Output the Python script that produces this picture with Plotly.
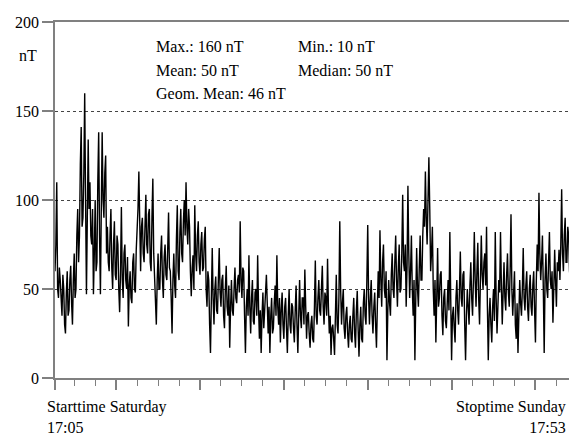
import numpy as np
import plotly.graph_objects as go

# sample spacing of the record (minutes) and field values (nT)
sample_step_min = 2.5
field_nT = [
    60, 75, 110, 50, 45, 62, 55, 40, 35, 58, 50, 30, 25, 48, 60, 35, 38, 55, 63, 42,
    30, 55, 70, 45, 50, 80, 95, 65, 80, 120, 141, 85, 90, 115, 160, 100, 47, 90, 134, 95,
    110, 80, 75, 95, 47, 70, 100, 60, 65, 110, 138, 80, 47, 95, 138, 100, 90, 115, 125, 70,
    85, 65, 60, 80, 95, 62, 50, 75, 88, 58, 55, 80, 75, 50, 37, 60, 96, 55, 45, 70,
    75, 55, 50, 68, 29, 52, 60, 45, 42, 65, 70, 50, 48, 72, 80, 95, 116, 75, 60, 85,
    90, 70, 65, 85, 103, 75, 70, 92, 95, 65, 60, 90, 112, 70, 55, 45, 30, 55, 70, 50,
    50, 70, 80, 55, 45, 68, 75, 58, 55, 72, 93, 62, 60, 45, 25, 55, 70, 52, 45, 78,
    97, 60, 55, 82, 95, 70, 65, 88, 100, 80, 110, 85, 75, 95, 85, 60, 46, 62, 69, 50,
    97, 70, 60, 80, 88, 65, 58, 75, 82, 60, 62, 78, 85, 50, 40, 60, 55, 30, 14, 45,
    73, 45, 30, 50, 57, 38, 36, 55, 73, 48, 40, 55, 58, 35, 28, 50, 63, 40, 35, 52,
    17, 40, 55, 38, 35, 50, 62, 45, 42, 55, 58, 48, 88, 55, 45, 62, 60, 35, 14, 40,
    50, 35, 69, 40, 25, 45, 55, 32, 30, 48, 50, 35, 69, 40, 22, 38, 14, 35, 48, 28,
    35, 48, 58, 30, 25, 40, 14, 35, 45, 25, 28, 42, 52, 35, 69, 40, 30, 45, 20, 38,
    48, 30, 22, 40, 45, 28, 14, 35, 50, 30, 25, 42, 40, 28, 20, 38, 52, 30, 14, 35,
    55, 35, 28, 45, 45, 30, 61, 40, 22, 35, 37, 25, 17, 30, 35, 22, 20, 40, 66, 35,
    30, 45, 55, 38, 35, 50, 63, 40, 30, 48, 45, 35, 67, 40, 25, 35, 13, 28, 30, 22,
    13, 35, 58, 30, 25, 45, 88, 50, 30, 42, 50, 28, 22, 35, 40, 25, 17, 30, 35, 22,
    20, 35, 45, 25, 17, 38, 49, 28, 12, 30, 40, 22, 20, 42, 50, 35, 30, 55, 86, 45,
    30, 45, 55, 35, 25, 40, 48, 30, 17, 40, 60, 45, 83, 55, 40, 65, 75, 50, 45, 60,
    10, 38, 55, 42, 35, 58, 70, 50, 45, 65, 80, 55, 40, 62, 75, 48, 50, 70, 103, 65,
    60, 75, 40, 62, 108, 70, 45, 60, 80, 50, 35, 55, 10, 45, 73, 50, 40, 62, 80, 55,
    55, 80, 95, 85, 116, 90, 75, 100, 124, 95, 60, 70, 85, 50, 35, 55, 20, 45, 73, 40,
    45, 58, 60, 35, 24, 45, 50, 32, 28, 42, 55, 38, 82, 45, 10, 35, 40, 28, 20, 45,
    55, 38, 30, 50, 71, 45, 40, 58, 60, 30, 10, 35, 50, 40, 30, 52, 65, 45, 35, 55,
    82, 55, 40, 60, 76, 45, 30, 55, 80, 58, 50, 65, 70, 52, 85, 40, 10, 35, 45, 30,
    20, 40, 50, 32, 82, 45, 25, 40, 55, 48, 82, 52, 30, 48, 65, 45, 38, 58, 70, 48,
    40, 60, 92, 50, 35, 48, 60, 30, 22, 42, 14, 35, 55, 42, 35, 50, 73, 45, 38, 52,
    60, 40, 32, 50, 58, 40, 35, 52, 60, 38, 20, 55, 75, 60, 104, 70, 55, 65, 80, 50,
    14, 55, 70, 50, 45, 65, 82, 55, 50, 60, 31, 50, 72, 55, 40, 65, 60, 72, 55, 75,
    106, 70, 60, 80, 90, 65, 65, 85, 80, 60, 55, 75, 85, 65, 60, 70,
]
time_min = np.arange(len(field_nT)) * sample_step_min

# axis ticks
y_ticks = [0, 50, 100, 150, 200]
x_major_ticks = [0, 175, 415, 655, 895, 1135, 1375]   # start, then every 4 h from 20:00
x_minor_tick0 = 55                                    # 18:00
x_minor_step = 60                                     # hourly
x_view_end = 1471

stats_left = ["Max.: 160 nT", "Mean: 50 nT", "Geom. Mean: 46 nT"]
stats_right = ["Min.: 10 nT", "Median: 50 nT"]
unit_label = "nT"
start_label = "Starttime Saturday<br>17:05"
stop_label = "Stoptime Sunday<br>17:53"

FONT = "Liberation Serif"
AX = "#808080"
TXT = dict(family=FONT, size=16, color="black")

fig = go.Figure()
fig.add_trace(go.Scatter(x=time_min, y=field_nT, mode="lines",
                         line=dict(color="black", width=1.4), showlegend=False))

fig.update_layout(
    width=569, height=435,
    margin=dict(l=55, r=0, t=22, b=57),
    paper_bgcolor="white", plot_bgcolor="white",
    font=TXT,
    showlegend=False,
)
fig.update_xaxes(
    range=[0, x_view_end], showgrid=False, zeroline=False,
    showline=True, linecolor=AX, linewidth=1.5, mirror=True,
    tickmode="array", tickvals=x_major_ticks, ticks="outside",
    ticklen=10, tickwidth=1.5, tickcolor=AX, showticklabels=False,
    minor=dict(tickmode="linear", tick0=x_minor_tick0, dtick=x_minor_step,
               ticks="outside", ticklen=6, tickwidth=1.2, tickcolor=AX,
               showgrid=False),
)
fig.update_yaxes(
    range=[0, 200], tickvals=y_ticks, ticks="outside", ticklen=11,
    tickwidth=1.5, tickcolor=AX, showline=True, linecolor=AX, linewidth=1.5,
    zeroline=False, showgrid=True, gridcolor="#444444", griddash="dot",
    gridwidth=1, tickfont=TXT,
)

ann = []
row_y = [186, 173, 160]
for i, t in enumerate(stats_left):
    ann.append(dict(x=283, y=row_y[i], xref="x", yref="y", text=t,
                    showarrow=False, xanchor="left", yanchor="middle", font=TXT))
for i, t in enumerate(stats_right):
    ann.append(dict(x=690, y=row_y[i], xref="x", yref="y", text=t,
                    showarrow=False, xanchor="left", yanchor="middle", font=TXT))
ann.append(dict(x=-0.053, y=181, xref="paper", yref="y", text=unit_label,
                showarrow=False, xanchor="center", yanchor="middle", font=TXT))
ann.append(dict(x=-0.02, y=-0.05, xref="paper", yref="paper", text=start_label,
                showarrow=False, xanchor="left", yanchor="top", align="left", font=TXT))
ann.append(dict(x=0.998, y=-0.05, xref="paper", yref="paper", text=stop_label,
                showarrow=False, xanchor="right", yanchor="top", align="right", font=TXT))
fig.update_layout(annotations=ann)

fig.write_html("out.html")
